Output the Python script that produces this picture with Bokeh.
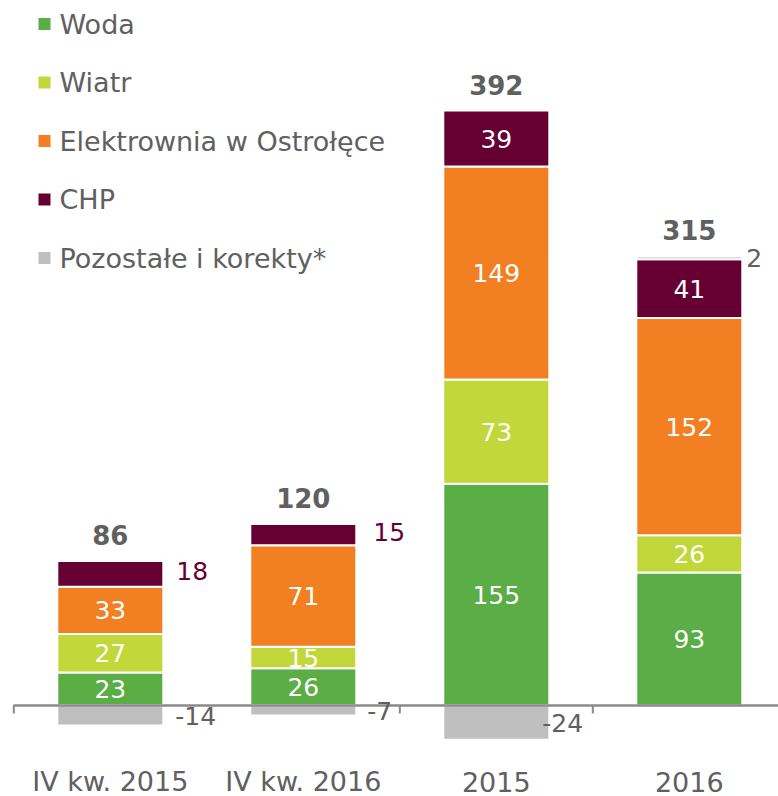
from bokeh.plotting import figure
from bokeh.models import Range1d, ColumnDataSource
from bokeh.core.properties import value
from bokeh.embed import file_html
from bokeh.resources import INLINE

# ---- data ----
categories = ["IV kw. 2015", "IV kw. 2016", "2015", "2016"]
series_names = ["Woda", "Wiatr", "Elektrownia w Ostrołęce", "CHP", "Pozostałe i korekty*"]
woda = [23, 26, 155, 93]
wiatr = [27, 15, 73, 26]
elektrownia = [33, 71, 149, 152]
chp = [18, 15, 39, 41]
pozostale = [-14, -7, -24, 2]
totals = [86, 120, 392, 315]

# ---- style ----
colors = ["#5BAD45", "#C2D83A", "#F28022", "#660033", "#BFBFBF"]
TXT = "#606060"
FONT = value("DejaVu Sans")

W, H = 778, 796
# pixel mapping helpers (canvas px -> data), positions only
X0, DX = 109.8, 193.0
Y0, SY = 705.0, 1.43
def xd(px):
    return (px - X0) / DX
def yd(py):
    return (Y0 - py) / SY

p = figure(width=W, height=H, output_backend="svg", toolbar_location=None,
           x_range=Range1d(xd(0), xd(W)), y_range=Range1d(yd(H), yd(0)),
           x_axis_type=None, y_axis_type=None, min_border=0,
           outline_line_color=None)
p.background_fill_color = "white"
p.border_fill_color = "white"

bar_w = 106 / DX
series = [woda, wiatr, elektrownia, chp, pozostale]

seg = dict(x=[], bottom=[], top=[], color=[])
inside = dict(x=[], y=[], text=[])
outside = dict(x=[], y=[], text=[], color=[])
tot = dict(x=[], y=[], text=[])

chp_dx = [13, 17]          # px gap for CHP labels drawn outside (quarters)
gray_dx = [12, 11, -7, 4]  # px gap for "Pozostałe" labels

for i, cat in enumerate(categories):
    pos = 0.0
    neg = 0.0
    for s, vals in enumerate(series):
        v = vals[i]
        if v >= 0:
            b, t = pos, pos + v
            pos = t
        else:
            b, t = neg + v, neg
            neg = b
        seg["x"].append(i)
        seg["bottom"].append(b)
        seg["top"].append(t)
        seg["color"].append(colors[s])
        mid = (b + t) / 2
        if s == 4:
            outside["x"].append(i + bar_w / 2 + gray_dx[i] / DX)
            outside["y"].append(mid)
            outside["text"].append(str(v))
            outside["color"].append(TXT)
        elif s == 3 and i < 2:
            outside["x"].append(i + bar_w / 2 + chp_dx[i] / DX)
            outside["y"].append(mid + 3 / SY)
            outside["text"].append(str(v))
            outside["color"].append(colors[3])
        else:
            inside["x"].append(i)
            inside["y"].append(mid)
            inside["text"].append(str(v))
    tot["x"].append(i)
    tot["y"].append(pos + 26 / SY)
    tot["text"].append(str(totals[i]))

p.vbar(x="x", bottom="bottom", top="top", width=bar_w, fill_color="color",
       line_color="white", line_width=2, source=ColumnDataSource(seg))

# axis line and ticks
p.segment(x0=[xd(13)], y0=[0], x1=[xd(W)], y1=[0], line_color="#8a8a8a", line_width=2.6)
tick_x = [-0.5, 1.5, 2.5]
p.segment(x0=tick_x, y0=[0] * 3, x1=tick_x, y1=[yd(713)] * 3, line_color="#8a8a8a", line_width=2)

p.text(x="x", y="y", text="text", source=ColumnDataSource(inside), text_color="white",
       text_font=FONT, text_font_size=value("25px"), text_align="center", text_baseline="middle")
p.text(x="x", y="y", text="text", text_color="color", source=ColumnDataSource(outside),
       text_font=FONT, text_font_size=value("25px"), text_align="left", text_baseline="middle")
p.text(x="x", y="y", text="text", source=ColumnDataSource(tot), text_color=TXT,
       text_font=FONT, text_font_size=value("26px"), text_font_style="bold",
       text_align="center", text_baseline="middle")

# category labels
p.text(x=list(range(len(categories))), y=[yd(781)] * len(categories), text=categories,
       text_color=TXT, text_font=FONT, text_font_size=value("27px"),
       text_align="center", text_baseline="middle")

# legend
ly = [23.5 + 58.5 * k for k in range(len(series_names))]
p.scatter(x=[xd(44)] * len(series_names), y=[yd(v) for v in ly], marker="square", size=12,
          fill_color=colors, line_color=None)
p.text(x=[xd(59)] * len(series_names), y=[yd(v) for v in ly], text=series_names,
       text_color=TXT, text_font=FONT, text_font_size=value("27px"),
       text_align="left", text_baseline="middle")

open("out.html", "w").write(file_html(p, INLINE))
